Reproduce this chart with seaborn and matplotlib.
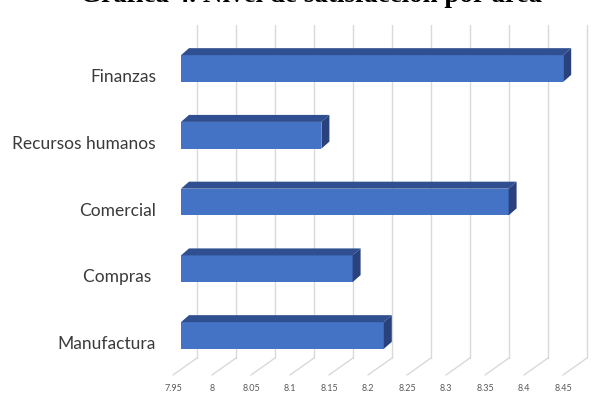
import numpy as np
import pandas as pd
import seaborn as sns
import matplotlib.pyplot as plt
from matplotlib.transforms import ScaledTranslation
from matplotlib.patches import Polygon

# data
areas = ["Finanzas", "Recursos humanos", "Comercial", "Compras ", "Manufactura"]
satisfaccion = [8.44, 8.13, 8.37, 8.17, 8.21]
ticks = [7.95, 8, 8.05, 8.1, 8.15, 8.2, 8.25, 8.3, 8.35, 8.4, 8.45]
tick_labels = ["7.95", "8", "8.05", "8.1", "8.15", "8.2", "8.25", "8.3", "8.35", "8.4", "8.45"]
titulo = "Gráfica 4. Nivel de satisfacción por área"

df = pd.DataFrame({"area": areas, "valor": satisfaccion})

sns.set_style("white")
plt.rcParams["font.family"] = ["Lato", "DejaVu Sans"]

W, H, DPI = 595, 394, 100
fig = plt.figure(figsize=(W / DPI, H / DPI), dpi=DPI)
ax = fig.add_axes([181 / W, 36 / H, 409 / W, 333 / H])

front = "#4472C4"
top_col = "#2F4F91"
side_col = "#29427E"

sns.barplot(data=df, x="valor", y="area", orient="h", color=front,
            saturation=1, width=0.4, ax=ax, zorder=3, edgecolor="none")

px_per_unit = 780
ax.set_xlim(7.95, 7.95 + 409 / px_per_unit)
ax.set_ylim(4.337, -0.652)
sns.despine(ax=ax, left=True, bottom=True, top=True, right=True)
ax.set_xlabel("")
ax.set_ylabel("")

# back wall gridlines (shifted right) with diagonals down to the front labels
back = ax.get_xaxis_transform() + ScaledTranslation(16 / DPI, 0, fig.dpi_scale_trans)
for t in ticks:
    ax.plot([t, t], [0, 1], transform=back, color="#D9D9D9", lw=1, zorder=1, clip_on=False)
    ax.annotate("", xy=(t, 0), xycoords=back, xytext=(-24, -17), textcoords="offset pixels",
                arrowprops=dict(arrowstyle="-", color="#D9D9D9", lw=1, shrinkA=0, shrinkB=0),
                annotation_clip=False)

ax.set_xticks(ticks)
ax.set_xticklabels(tick_labels)
ax.tick_params(axis="x", length=0, pad=19, labelsize=6.5, labelcolor="#595959")
ax.tick_params(axis="y", length=0, pad=18, labelsize=12.5, labelcolor="#3A3A3A")
for lbl in ax.get_xticklabels():
    lbl.set_transform(lbl.get_transform() + ScaledTranslation(-8 / DPI, 0, fig.dpi_scale_trans))
for lbl in ax.get_yticklabels():
    lbl.set_transform(lbl.get_transform() + ScaledTranslation(0, -7 / DPI, fig.dpi_scale_trans))

# 3D faces for each bar, built from the drawn patch extents
fig.canvas.draw()
ax_left = ax.get_window_extent().x0
dx, dy = 8, 7
for p in ax.patches:
    bb = p.get_window_extent()
    x0 = max(bb.x0, ax_left)
    x1, y0, y1 = bb.x1, bb.y0, bb.y1
    topf = Polygon([(x0, y1), (x1, y1), (x1 + dx, y1 + dy), (x0 + dx, y1 + dy)],
                   closed=True, transform=None, facecolor=top_col, edgecolor="none", zorder=4)
    sidef = Polygon([(x1, y0), (x1 + dx, y0 + dy), (x1 + dx, y1 + dy), (x1, y1)],
                    closed=True, transform=None, facecolor=side_col, edgecolor="none", zorder=4)
    fig.add_artist(topf)
    fig.add_artist(sidef)

# title, mostly cut off at the top edge in the reference
fig.text(311 / W, 1 - 1.5 / H, titulo, ha="center", va="baseline", fontsize=19.5,
         fontweight="bold", family=["Liberation Serif", "DejaVu Serif"], color="black")

fig.savefig("out.png", dpi=DPI)
plt.close(fig)
